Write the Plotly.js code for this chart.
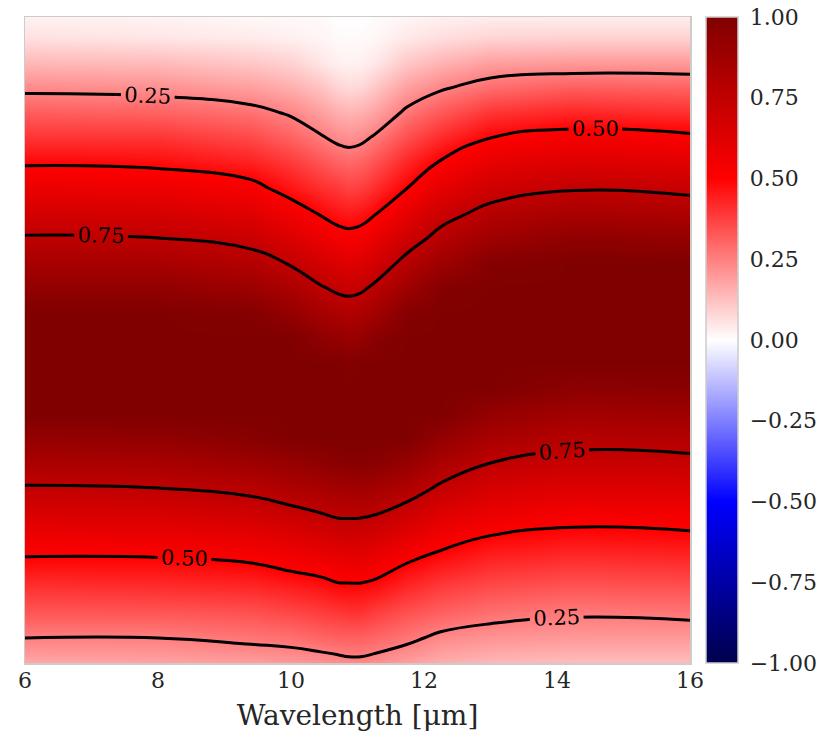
<!DOCTYPE html>
<html>
<head>
<meta charset="utf-8">
<script src="https://cdn.plot.ly/plotly-3.0.1.min.js"></script>
<style>html,body{margin:0;padding:0;background:#fff;}#chart{width:821px;height:743px;}</style>
</head>
<body>
<div id="chart"></div>
<script>
// Wavelength columns (µm)
const wavelength = [6, 8, 9.4, 10.0, 10.45, 10.7, 10.87, 11.05, 11.25, 11.75, 12.25, 13.0, 14.25, 16];
// Vertical coordinate (unlabelled axis, arbitrary units, bottom = 0)
const position = [0, 25, 50, 75, 100, 125, 150, 175, 200, 225, 250, 275, 300, 325,
                  350, 375, 400, 425, 450, 475, 500, 525, 550, 575, 600, 625, 650];
// Field values, one row per position, one column per wavelength
const z_r00 = [0.17, 0.18, 0.19, 0.20, 0.21, 0.22, 0.23, 0.23, 0.22, 0.19, 0.16, 0.14, 0.13, 0.13];
const z_r01 = [0.25, 0.25, 0.27, 0.28, 0.30, 0.31, 0.31, 0.31, 0.30, 0.27, 0.23, 0.21, 0.20, 0.20];
const z_r02 = [0.33, 0.33, 0.34, 0.36, 0.38, 0.39, 0.40, 0.40, 0.38, 0.34, 0.31, 0.28, 0.26, 0.27];
const z_r03 = [0.40, 0.41, 0.42, 0.44, 0.46, 0.48, 0.48, 0.48, 0.47, 0.42, 0.38, 0.35, 0.33, 0.34];
const z_r04 = [0.48, 0.48, 0.50, 0.53, 0.55, 0.57, 0.58, 0.58, 0.56, 0.50, 0.46, 0.42, 0.40, 0.41];
const z_r05 = [0.56, 0.57, 0.59, 0.62, 0.65, 0.67, 0.68, 0.67, 0.66, 0.60, 0.54, 0.49, 0.47, 0.48];
const z_r06 = [0.65, 0.66, 0.69, 0.72, 0.75, 0.77, 0.77, 0.77, 0.76, 0.70, 0.63, 0.58, 0.54, 0.55];
const z_r07 = [0.74, 0.75, 0.78, 0.82, 0.84, 0.86, 0.87, 0.87, 0.86, 0.81, 0.73, 0.66, 0.63, 0.64];
const z_r08 = [0.83, 0.84, 0.88, 0.91, 0.94, 0.96, 0.97, 0.97, 0.96, 0.91, 0.83, 0.75, 0.71, 0.72];
const z_r09 = [0.92, 0.93, 0.97, 1.00, 1.00, 1.00, 1.00, 1.00, 1.00, 1.00, 0.92, 0.84, 0.79, 0.80];
const z_r10 = [1.00, 1.00, 1.00, 1.00, 1.00, 1.00, 1.00, 1.00, 1.00, 1.00, 1.00, 0.92, 0.87, 0.88];
const z_r11 = [1.00, 1.00, 1.00, 1.00, 1.00, 1.00, 1.00, 1.00, 1.00, 1.00, 1.00, 1.00, 0.95, 0.96];
const z_r12 = [1.00, 1.00, 1.00, 1.00, 1.00, 1.00, 0.99, 1.00, 1.00, 1.00, 1.00, 1.00, 1.00, 1.00];
const z_r13 = [1.00, 1.00, 1.00, 1.00, 0.94, 0.92, 0.90, 0.92, 0.96, 1.00, 1.00, 1.00, 1.00, 1.00];
const z_r14 = [1.00, 1.00, 0.98, 0.92, 0.85, 0.82, 0.81, 0.83, 0.86, 0.98, 1.00, 1.00, 1.00, 1.00];
const z_r15 = [0.93, 0.93, 0.89, 0.83, 0.76, 0.73, 0.72, 0.73, 0.77, 0.88, 0.98, 1.00, 1.00, 1.00];
const z_r16 = [0.85, 0.84, 0.80, 0.74, 0.67, 0.64, 0.62, 0.64, 0.67, 0.79, 0.88, 0.98, 1.00, 1.00];
const z_r17 = [0.76, 0.75, 0.71, 0.64, 0.58, 0.54, 0.53, 0.54, 0.58, 0.69, 0.79, 0.88, 0.94, 0.92];
const z_r18 = [0.67, 0.66, 0.62, 0.55, 0.49, 0.46, 0.45, 0.46, 0.49, 0.60, 0.70, 0.79, 0.84, 0.82];
const z_r19 = [0.58, 0.57, 0.53, 0.46, 0.41, 0.39, 0.37, 0.38, 0.41, 0.50, 0.60, 0.69, 0.74, 0.72];
const z_r20 = [0.49, 0.48, 0.44, 0.39, 0.34, 0.31, 0.30, 0.31, 0.34, 0.43, 0.51, 0.60, 0.64, 0.62];
const z_r21 = [0.40, 0.40, 0.36, 0.31, 0.26, 0.23, 0.22, 0.23, 0.26, 0.35, 0.42, 0.50, 0.54, 0.52];
const z_r22 = [0.32, 0.31, 0.28, 0.24, 0.19, 0.16, 0.15, 0.16, 0.18, 0.27, 0.33, 0.40, 0.43, 0.41];
const z_r23 = [0.23, 0.22, 0.19, 0.16, 0.12, 0.085, 0.075, 0.08, 0.11, 0.19, 0.24, 0.29, 0.32, 0.31];
const z_r24 = [0.14, 0.135, 0.11, 0.09, 0.05, 0.03, 0.025, 0.03, 0.045, 0.11, 0.15, 0.19, 0.20, 0.20];
const z_r25 = [0.06, 0.05, 0.04, 0.03, 0.02, 0.01, 0.01, 0.01, 0.015, 0.045, 0.065, 0.085, 0.09, 0.09];
const z_r26 = [0.02, 0.02, 0.01, 0.01, 0.01, 0.0, 0.0, 0.0, 0.005, 0.015, 0.025, 0.025, 0.025, 0.025];

const zRows = [z_r00, z_r01, z_r02, z_r03, z_r04, z_r05, z_r06, z_r07, z_r08, z_r09,
               z_r10, z_r11, z_r12, z_r13, z_r14, z_r15, z_r16, z_r17, z_r18, z_r19,
               z_r20, z_r21, z_r22, z_r23, z_r24, z_r25, z_r26];

const xTicks = [6, 8, 10, 12, 14, 16];
const cbTicks = [1, 0.75, 0.5, 0.25, 0, -0.25, -0.5, -0.75, -1];
const contourLevels = {start: 0.25, end: 0.75, size: 0.25};

const seismic = [
  [0.0, 'rgb(0,0,77)'],
  [0.25, 'rgb(0,0,255)'],
  [0.5, 'rgb(255,255,255)'],
  [0.75, 'rgb(255,0,0)'],
  [1.0, 'rgb(128,0,0)']
];

const serif = 'DejaVu Serif';
const textColor = '#262626';

const heat = {
  type: 'heatmap',
  x: wavelength, y: position, z: zRows,
  zmin: -1, zmax: 1,
  zsmooth: 'best',
  colorscale: seismic,
  showscale: true,
  hoverinfo: 'skip',
  colorbar: {
    x: 1.024, xanchor: 'left', xref: 'paper',
    y: 0.5, yanchor: 'middle',
    len: 1, lenmode: 'fraction',
    thickness: 32, thicknessmode: 'pixels',
    outlinecolor: '#cccccc', outlinewidth: 1.5,
    tickvals: cbTicks,
    tickformat: '.2f',
    ticks: 'outside', ticklen: 7, tickcolor: 'rgba(0,0,0,0)',
    tickfont: {family: serif, size: 22, color: textColor},
    xpad: 0, ypad: 0
  }
};

const cont = {
  type: 'contour',
  x: wavelength, y: position, z: zRows,
  autocontour: false,
  contours: Object.assign({coloring: 'none', showlabels: true,
    labelfont: {family: serif, size: 21, color: '#000000'}, labelformat: '.2f'}, contourLevels),
  line: {color: '#000000', width: 3, smoothing: 1.3},
  showscale: false,
  hoverinfo: 'skip'
};

const layout = {
  width: 821, height: 743,
  margin: {l: 25, r: 131, t: 17, b: 80, autoexpand: false},
  paper_bgcolor: '#ffffff',
  plot_bgcolor: '#ffffff',
  showlegend: false,
  font: {family: serif},
  xaxis: {
    range: [6, 16],
    tickvals: xTicks,
    ticktext: xTicks.map(String),
    ticks: '',
    ticklabelstandoff: -3,
    tickfont: {family: serif, size: 22, color: textColor},
    showgrid: false, zeroline: false,
    showline: true, mirror: true, linecolor: '#cccccc', linewidth: 1.5,
    title: {text: 'Wavelength [μm]', font: {family: serif, size: 28, color: textColor}, standoff: 13}
  },
  yaxis: {
    range: [0, 646],
    showticklabels: false, ticks: '',
    showgrid: false, zeroline: false,
    showline: true, mirror: true, linecolor: '#cccccc', linewidth: 1.5
  }
};

Plotly.newPlot('chart', [heat, cont], layout, {displayModeBar: false, staticPlot: true});
</script>
</body>
</html>
